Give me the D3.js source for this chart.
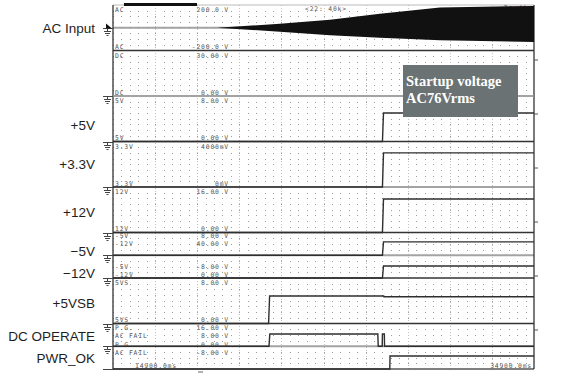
<!DOCTYPE html>
<html>
<head>
<meta charset="utf-8">
<script src="https://cdn.jsdelivr.net/npm/d3@7"></script>
<style>
  body { margin: 0; background: #fff; }
  svg { display: block; }
</style>
</head>
<body>
<div id="chart"></div>
<script>
// ---- data (time in ms) ----
const timeDomain = [14900, 34900];
const timeLabels = ["14900.0ms", "34900.0ms"];
const zoomBar = [15420, 18890];

const sideLabels = ["AC Input", "+5V", "+3.3V", "+12V", "\u22125V", "\u221212V", "+5VSB", "DC OPERATE", "PWR_OK"];

const channelNames = ["AC", "DC", "5V", "3.3V", "12V", "-5V", "-12V", "5VS", "P.G.", "AC FAIL"];
const bottomNames  = ["AC", "DC", "5V", "3.3V", "12V", "-5V", "-12V", "5VS", "P.G", "AC FAIL"];
const channelPanel = [0, 1, 2, 3, 4, 5, 5, 6, 7, 7];
const channelMin   = [-200, 0, 0, 0, 0, -8, 0, 0, 0, -8];
const channelMax   = [200, 30, 8, 4000, 16, 8, 40, 8, 16, 8];
const maxLabels = ["200.0 V", "30.00 V", "8.00 V", "4000mV", "16.00 V", "8.00 V", "40.00 V", "8.00 V", "16.00 V", "8.00 V"];
const minLabels = ["-200.0 V", "0.00 V", "0.00 V", "0mV", "0.00 V", "-8.00 V", "0.00 V", "0.00 V", "0.00 V", "-8.00 V"];
const grayZero = ["AC", "DC", "3.3V", "-5V", "AC FAIL"];

// AC input envelope (V)
const acTime  = [19841, 22830, 25210, 27580, 30430, 34900];
const acUpper = [0, 35, 70, 123, 178, 192];
const acLower = [0, -35, -65, -88, -110, -125];

// DC outputs
const dcTime = [14900, 34900];
const dcVals = [0, 0];
const stepTime = [14900, 27700, 27750, 34900];
const v5   = [0, 0, 5.0, 5.0];
const v33  = [0, 0, 3000, 3000];
const v12  = [0, 0, 11.8, 11.8];
const vN5  = [0, 0, 4.7, 4.7];
const vN12 = [0, 0, 10.5, 10.5];
const sbTime = [14900, 22290, 22340, 27760, 27770, 34900];
const sbVals = [0, 0, 4.84, 4.84, 4.7, 4.7];
const dcOpTime = [14900, 22310, 22350, 27480, 27500, 27690, 27700, 27790, 27800, 34900];
const dcOpVals = [0, 0, 4.3, 4.3, 0, 0, 4.3, 4.3, 0, 0];
const pwrTime = [14900, 28050, 28060, 34900];
const pwrVals = [0, 0, 4.57, 4.57];

const noteLines = ["Startup voltage", "AC76Vrms"];

// ---- layout ----
const width = 568, height = 381;
const plot = { left: 113, right: 534, top: 5, bottom: 369 };
const panelCount = 8;
const mono = "'DejaVu Sans Mono', monospace";

const svg = d3.select("#chart").append("svg")
  .attr("width", width)
  .attr("height", height)
  .style("background", "#fff");

const x = d3.scaleLinear().domain(timeDomain).range([plot.left, plot.right]);
const panel = d3.scaleLinear().domain([0, panelCount]).range([plot.top, plot.bottom]);
const ys = channelNames.map((d, i) => d3.scaleLinear()
  .domain([channelMin[i], channelMax[i]])
  .range([panel(channelPanel[i] + 1), panel(channelPanel[i])]));
const ch = name => channelNames.indexOf(name);

// grid: dotted rows in every panel, dashed major columns
const grid = svg.append("g").attr("shape-rendering", "crispEdges");
const divW = (plot.right - plot.left) / 50;
for (let p = 0; p < panelCount; p++) {
  for (let s = 1; s < 8; s++) {
    const yy = Math.round(panel(p + s / 8)) + 0.5;
    grid.append("line")
      .attr("x1", plot.left).attr("x2", plot.right)
      .attr("y1", yy).attr("y2", yy)
      .attr("stroke", "#9c9c9c")
      .attr("stroke-dasharray", `1 ${divW - 1}`);
  }
}
const majors = d3.range(timeDomain[0] + 2000, timeDomain[1], 2000);
grid.selectAll(".major").data(majors).enter().append("line")
  .attr("class", "major")
  .attr("x1", d => Math.round(x(d)) + 0.5).attr("x2", d => Math.round(x(d)) + 0.5)
  .attr("y1", plot.top).attr("y2", plot.bottom)
  .attr("stroke", "#c2c2c2")
  .attr("stroke-dasharray", "1 2");

// panel separators
svg.append("g").selectAll("line")
  .data(d3.range(1, panelCount))
  .enter().append("line")
  .attr("x1", plot.left).attr("x2", plot.right)
  .attr("y1", d => panel(d)).attr("y2", d => panel(d))
  .attr("stroke", "#333").attr("stroke-width", 1.3);

// highlighted zero lines
svg.append("g").selectAll("line")
  .data(grayZero)
  .enter().append("line")
  .attr("x1", plot.left).attr("x2", plot.right)
  .attr("y1", d => ys[ch(d)](0)).attr("y2", d => ys[ch(d)](0))
  .attr("stroke", "#a3a3a3").attr("stroke-width", 2);

// frame
svg.append("line").attr("x1", plot.left).attr("x2", plot.right)
  .attr("y1", plot.top).attr("y2", plot.top).attr("stroke", "#bbb");
svg.append("line").attr("x1", plot.left).attr("x2", plot.right)
  .attr("y1", plot.bottom).attr("y2", plot.bottom).attr("stroke", "#555").attr("stroke-width", 1.3);
svg.append("line").attr("x1", plot.left).attr("x2", plot.left)
  .attr("y1", plot.top).attr("y2", plot.bottom).attr("stroke", "#333").attr("stroke-width", 1.3);
svg.append("line").attr("x1", plot.right).attr("x2", plot.right)
  .attr("y1", plot.top).attr("y2", plot.bottom).attr("stroke", "#333").attr("stroke-width", 1.3);
svg.append("rect")
  .attr("x", x(zoomBar[0])).attr("width", x(zoomBar[1]) - x(zoomBar[0]))
  .attr("y", plot.top - 2).attr("height", 3)
  .attr("fill", "#111");

// right side division ticks
const divScale = d3.scaleLinear().domain([0, 1]).range([60, 114]);
svg.append("g").selectAll("line")
  .data(d3.range(6))
  .enter().append("line")
  .attr("x1", plot.right).attr("x2", plot.right + 4)
  .attr("y1", d => divScale(d)).attr("y2", d => divScale(d))
  .attr("stroke", "#555");

// channel scale labels inside the plot
const tiny = svg.append("g")
  .style("font-family", mono)
  .style("font-size", "6.4px")
  .style("letter-spacing", "0.8px")
  .attr("fill", "#555");

function labelRows(i) {
  const p = channelPanel[i];
  const top = panel(p), bot = panel(p + 1), mid = (top + bot) / 2;
  const first = channelPanel.indexOf(p) === i;
  const shared = channelPanel.filter(d => d === p).length > 1;
  if (!shared) return [top + 7, bot - 1.5];
  if (p === panelCount - 1) return first ? [top + 6.5, mid + 1] : [top + 14, mid + 8.5];
  return first ? [top + 5.5, bot - 9] : [top + 13, bot - 1.5];
}

channelNames.forEach((name, i) => {
  const [yt, yb] = labelRows(i);
  tiny.append("text").attr("x", plot.left + 2).attr("y", yt).text(name);
  tiny.append("text").attr("x", 229).attr("y", yt).attr("text-anchor", "end").text(maxLabels[i]);
  tiny.append("text").attr("x", plot.left + 2).attr("y", yb).text(bottomNames[i]);
  tiny.append("text").attr("x", 229).attr("y", yb).attr("text-anchor", "end").text(minLabels[i]);
});

tiny.append("text").attr("x", 305).attr("y", 10.5).text("<22: 40k>");
tiny.append("text").attr("x", plot.right - 2).attr("y", 10).attr("text-anchor", "end")
  .attr("fill", "#333").text("\u00d72s div");
tiny.append("text").attr("x", 135).attr("y", 368).text(timeLabels[0]);
tiny.append("text").attr("x", plot.right - 2).attr("y", 368).attr("text-anchor", "end").text(timeLabels[1]);

// AC envelope
const acData = acTime.map((t, i) => ({ t, hi: acUpper[i], lo: acLower[i] }));
svg.append("path")
  .datum(acData)
  .attr("fill", "#111")
  .attr("d", d3.area()
    .x(d => x(d.t))
    .y0(d => ys[ch("AC")](d.lo))
    .y1(d => ys[ch("AC")](d.hi)));

// DC traces
const traces = [
  { name: "DC", t: dcTime, v: dcVals },
  { name: "5V", t: stepTime, v: v5 },
  { name: "3.3V", t: stepTime, v: v33 },
  { name: "12V", t: stepTime, v: v12 },
  { name: "-5V", t: stepTime, v: vN5 },
  { name: "-12V", t: stepTime, v: vN12 },
  { name: "5VS", t: sbTime, v: sbVals },
  { name: "AC FAIL", t: dcOpTime, v: dcOpVals },
  { name: "P.G.", t: pwrTime, v: pwrVals }
];

traces.forEach(tr => {
  const y = ys[ch(tr.name)];
  const line = d3.line().x(d => x(d[0])).y(d => y(d[1]));
  svg.append("path")
    .datum(tr.t.map((t, i) => [t, tr.v[i]]))
    .attr("fill", "none")
    .attr("stroke", tr.name === "DC" ? "#a3a3a3" : "#2e2e2e")
    .attr("stroke-width", 1.4)
    .attr("d", line);
});

// ground markers at each channel's zero level
const gnd = svg.append("g").attr("stroke", "#444").attr("stroke-width", 1);
channelNames.forEach((name, i) => {
  const y0 = Math.round(ys[i](0)) + 0.5;
  gnd.append("line").attr("x1", 103).attr("x2", plot.left).attr("y1", y0).attr("y2", y0);
  if (y0 > plot.bottom - 2) return;
  gnd.append("line").attr("x1", 107.5).attr("x2", 107.5).attr("y1", y0).attr("y2", y0 + 3);
  [[104, 111, 3], [105, 110, 5], [106.5, 108.5, 7]].forEach(b => {
    gnd.append("line").attr("x1", b[0]).attr("x2", b[1]).attr("y1", y0 + b[2]).attr("y2", y0 + b[2]);
  });
  if (name === "AC") {
    svg.append("path")
      .attr("d", `M106,${y0 - 5} L112,${y0} L106,${y0} Z`)
      .attr("fill", "#111");
  }
});
svg.append("line").attr("x1", 198).attr("x2", 203).attr("y1", 372).attr("y2", 372).attr("stroke", "#666");

// side labels
const labelPanel = [0, 2, 3, 4, 5, 5, 6, 7, 7];
const labelFrac  = [0.5, 0.63, 0.5, 0.55, 0.41, 0.89, 0.55, 0.27, 0.76];
svg.append("g")
  .style("font-family", "'Liberation Sans', Arial, sans-serif")
  .style("font-size", "13.5px")
  .attr("fill", "#1e1e1e")
  .selectAll("text")
  .data(sideLabels)
  .enter().append("text")
  .attr("x", 95)
  .attr("y", (d, i) => panel(labelPanel[i] + labelFrac[i]))
  .attr("dy", "0.36em")
  .attr("text-anchor", "end")
  .text(d => d);

// annotation box
const note = svg.append("g");
note.append("rect")
  .attr("x", 403).attr("y", 65).attr("width", 115).attr("height", 52)
  .attr("fill", "#6b7274");
note.selectAll("text")
  .data(noteLines)
  .enter().append("text")
  .attr("x", 406)
  .attr("y", (d, i) => 86 + i * 17)
  .style("font-family", "'Liberation Serif', 'DejaVu Serif', serif")
  .style("font-weight", "bold")
  .style("font-size", "14.5px")
  .attr("fill", "#fff")
  .text(d => d);
</script>
</body>
</html>
